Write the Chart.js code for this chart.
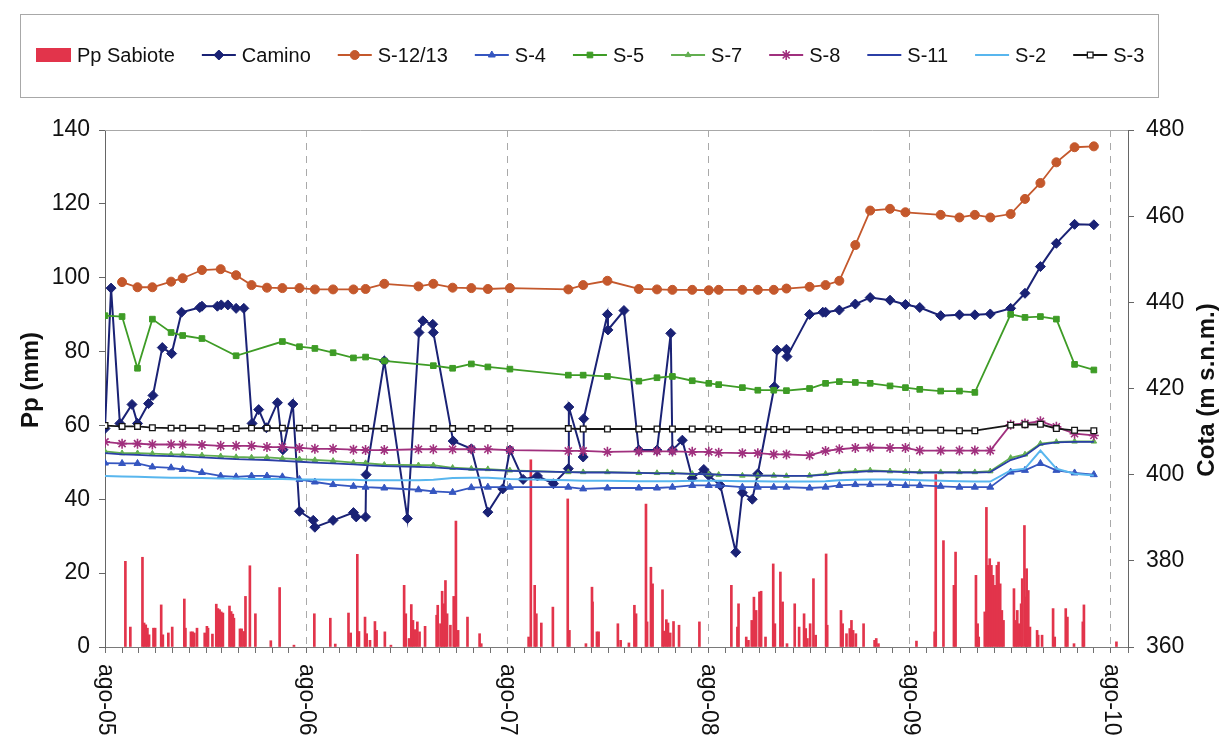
<!DOCTYPE html>
<html lang="es">
<head>
<meta charset="utf-8">
<title>Pp Sabiote y cotas piezométricas</title>
<script src="https://cdn.jsdelivr.net/npm/chart.js@4.4.0/dist/chart.umd.min.js"></script>
<style>
  html, body { margin: 0; padding: 0; background: #fff; }
  #wrap { width: 1223px; height: 738px; position: relative; }
</style>
</head>
<body>
<div id="wrap"><canvas id="grafico"></canvas></div>
<script>
// ---- Datos ----
const etiquetasAnio = ['ago-05', 'ago-06', 'ago-07', 'ago-08', 'ago-09', 'ago-10'];

// Fechas de las campañas de medida en los sondeos
const fechasPiezo = [
  '2005-08-01','2005-09-01','2005-09-29','2005-10-26','2005-11-29','2005-12-20','2006-01-24','2006-02-27','2006-03-27','2006-04-24',
  '2006-05-22','2006-06-19','2006-07-20','2006-08-17','2006-09-19','2006-10-26','2006-11-17','2006-12-21','2007-02-21','2007-03-20',
  '2007-04-24','2007-05-28','2007-06-27','2007-08-06','2007-11-20','2007-12-17','2008-01-30','2008-03-27','2008-04-29','2008-05-27',
  '2008-07-02','2008-08-01','2008-08-19','2008-10-01','2008-10-29','2008-11-27','2008-12-20','2009-01-31','2009-03-01','2009-03-26',
  '2009-04-24','2009-05-21','2009-06-26','2009-07-24','2009-08-19','2009-09-26','2009-10-30','2009-11-27','2009-12-25','2010-01-31',
  '2010-02-26','2010-03-26','2010-04-24','2010-05-27','2010-07-01'
];

const s12_13 = [
  null, 444.7, 443.5, 443.5, 444.8, 445.6, 447.5, 447.7, 446.3, 444.0,
  443.4, 443.3, 443.3, 443.0, 443.0, 443.0, 443.1, 444.3, 443.7, 444.3,
  443.4, 443.3, 443.1, 443.3, 443.0, 444.0, 445.0, 443.1, 443.0, 442.9,
  442.9, 442.8, 442.9, 442.9, 442.9, 442.9, 443.2, 443.6, 444.0, 445.0,
  453.3, 461.3, 461.7, 460.9, null, 460.3, 459.7, 460.3, 459.7, 460.5,
  464.0, 467.7, 472.5, 476.0, 476.2
];
const s4 = [
  402.7, 402.6, 402.6, 401.8, 401.6, 401.2, 400.5, 399.7, 399.5, 399.7,
  399.7, 399.5, 398.9, 398.3, 397.7, 397.3, 397.1, 396.9, 396.5, 396.1,
  395.9, 397.0, 397.1, 397.1, 397.1, 396.7, 396.9, 396.9, 396.9, 397.1,
  397.5, 397.5, 397.5, 397.1, 397.1, 397.1, 397.1, 396.9, 397.1, 397.5,
  397.7, 397.7, 397.7, 397.5, 397.5, 397.3, 397.1, 397.1, 397.1, 400.6,
  401.0, 402.6, 401.0, 400.4, 400.0
];
const s5 = [
  436.9, 436.7, 424.7, 436.1, 433.0, 432.3, 431.6, null, 427.6, null,
  null, 430.9, 429.7, 429.3, 428.3, 427.1, 427.3, 426.4, null, 425.3,
  424.7, 425.7, 425.0, 424.5, 423.1, 423.1, 422.8, 421.7, 422.5, 422.8,
  421.8, 421.2, 420.9, 420.2, 419.6, 419.6, 419.5, 420.0, 421.2, 421.6,
  421.4, 421.2, 420.6, 420.2, 419.8, 419.4, 419.4, 419.1, null, 437.2,
  436.5, 436.7, 436.1, 425.6, 424.3
];
const s7 = [
  405.4, 405.0, 405.0, 404.9, 404.7, 404.7, 404.5, 404.3, 404.1, 404.0,
  404.0, 403.8, 403.6, 403.4, 403.2, 402.8, 402.7, 402.3, 402.2, 402.2,
  401.6, 401.4, 401.3, 401.0, 400.6, 400.6, 400.6, 400.4, 400.4, 400.4,
  400.2, 400.1, 400.0, 399.8, 399.8, 399.8, 399.7, 399.8, 400.2, 400.6,
  400.8, 401.0, 400.8, 400.7, 400.6, 400.6, 400.6, 400.6, 400.8, 403.9,
  404.7, 407.2, 407.6, 407.7, 407.7
];
const s8 = [
  407.6, 407.2, 407.2, 407.0, 407.0, 407.0, 406.9, 406.7, 406.7, 406.7,
  406.4, 406.4, 406.2, 406.0, 406.0, 405.8, 405.7, 405.7, 405.9, 405.9,
  405.9, 405.9, 405.9, 405.7, 405.5, 405.5, 405.3, 405.4, 405.4, 405.4,
  405.3, 405.3, 405.1, 405.0, 405.0, 404.7, 404.7, 404.5, 405.5, 405.9,
  406.2, 406.3, 406.2, 406.2, 405.6, 405.6, 405.6, 405.6, 405.6, 411.6,
  411.9, 412.4, 411.1, 409.5, 409.1
];
const s11 = [
  405.0, 404.7, 404.6, 404.4, 404.3, 404.2, 404.0, 403.8, 403.6, 403.5,
  403.4, 403.2, 403.0, 402.8, 402.6, 402.4, 402.2, 402.0, 401.8, 401.7,
  401.4, 401.2, 401.1, 400.9, 400.6, 400.5, 400.5, 400.4, 400.3, 400.3,
  400.2, 400.1, 400.0, 399.9, 399.8, 399.8, 399.7, 399.7, 400.0, 400.4,
  400.6, 400.8, 400.7, 400.6, 400.5, 400.5, 400.5, 400.5, 400.6, 403.4,
  404.4, 407.0, 407.5, 407.6, 407.6
];
const s2 = [
  399.7, 399.6, 399.5, 399.4, 399.3, 399.3, 399.2, 399.1, 399.1, 399.0,
  399.0, 399.0, 398.9, 398.9, 398.8, 398.8, 398.7, 398.7, 398.7, 398.8,
  399.2, 399.3, 399.3, 399.0, 398.7, 398.6, 398.6, 398.5, 398.5, 398.5,
  398.6, 398.6, 398.6, 398.5, 398.5, 398.4, 398.4, 398.4, 398.5, 398.7,
  398.8, 398.9, 398.9, 398.8, 398.7, 398.6, 398.5, 398.4, 398.4, 401.0,
  401.4, 405.6, 401.4, 400.2, 399.8
];
const s3 = [
  411.4, 411.2, 411.2, 410.9, 410.8, 410.8, 410.8, 410.7, 410.7, 410.8,
  410.8, 410.8, 410.8, 410.8, 410.8, 410.8, 410.7, 410.7, null, 410.7,
  410.7, 410.7, 410.7, 410.7, 410.7, 410.6, 410.6, 410.6, 410.6, 410.6,
  410.6, 410.6, 410.5, 410.5, 410.5, 410.5, 410.5, 410.5, 410.4, 410.4,
  410.4, 410.4, 410.4, 410.3, 410.3, 410.3, 410.2, 410.2, null, 411.5,
  411.6, 411.7, 410.7, 410.3, 410.2
];

// Sondeo Camino: medidas más frecuentes
const fechasCamino = [
  '2005-08-01','2005-08-12','2005-08-28','2005-09-19','2005-09-29','2005-10-19','2005-10-27','2005-11-13','2005-11-30','2005-12-18',
  '2006-01-20','2006-01-24','2006-02-21','2006-02-28','2006-03-12','2006-03-27','2006-04-10','2006-04-25','2006-05-07','2006-05-21',
  '2006-06-10','2006-06-20','2006-07-08','2006-07-20','2006-08-14','2006-08-17','2006-09-19','2006-10-26','2006-10-31','2006-11-17',
  '2006-11-18','2006-12-21','2007-02-01','2007-02-22','2007-03-01','2007-03-19','2007-03-20','2007-04-25','2007-05-28','2007-06-27',
  '2007-07-24','2007-08-06','2007-08-30','2007-09-25','2007-10-24','2007-11-20','2007-11-21','2007-12-17','2007-12-18','2008-01-30',
  '2008-01-31','2008-02-29','2008-03-27','2008-04-29','2008-05-24','2008-05-27','2008-06-14','2008-07-02','2008-07-23','2008-08-01',
  '2008-08-22','2008-09-19','2008-10-01','2008-10-19','2008-10-29','2008-11-28','2008-12-03','2008-12-20','2008-12-21','2009-01-31',
  '2009-02-24','2009-03-01','2009-03-26','2009-04-24','2009-05-21','2009-06-26','2009-07-24','2009-08-19','2009-09-26','2009-10-30',
  '2009-11-27','2009-12-25','2010-01-31','2010-02-26','2010-03-26','2010-04-24','2010-05-27','2010-07-01'
];
const camino = [
  410.7, 443.3, 411.9, 416.3, 411.9, 416.5, 418.4, 429.5, 428.1, 437.7,
  438.8, 439.1, 439.1, 439.4, 439.4, 438.6, 438.6, 411.9, 415.1, 410.9,
  416.7, 405.8, 416.4, 391.5, 389.4, 387.8, 389.4, 391.2, 390.2, 390.2,
  400.0, 426.4, 389.8, 433.0, 435.7, 434.9, 433.0, 407.8, 406.0, 391.3,
  396.7, 405.7, 398.9, 399.7, 397.9, 401.4, 415.7, 404.1, 413.0, 437.2,
  433.6, 438.1, 405.7, 405.7, 432.8, 405.7, 408.0, 399.2, 401.2, 399.8,
  397.5, 382.0, 395.8, 394.3, 400.2, 420.4, 428.9, 429.1, 427.4, 437.2,
  437.7, 437.7, 438.2, 439.6, 441.1, 440.5, 439.5, 438.8, 436.9, 437.1,
  437.1, 437.3, 438.6, 442.1, 448.3, 453.7, 458.1, 458.0
];

// Precipitación diaria en Sabiote (mm), días con lluvia
const fechasLluvia = [
  '2005-09-07','2005-09-16','2005-10-08','2005-10-11','2005-10-14','2005-10-17','2005-10-20','2005-10-28','2005-10-31','2005-11-11',
  '2005-11-14','2005-11-24','2005-12-01','2005-12-23','2005-12-25','2006-01-04','2006-01-07','2006-01-10','2006-01-15','2006-01-29',
  '2006-02-02','2006-02-04','2006-02-12','2006-02-19','2006-02-22','2006-02-25','2006-02-28','2006-03-03','2006-03-15','2006-03-18',
  '2006-03-21','2006-03-23','2006-04-03','2006-04-06','2006-04-10','2006-04-13','2006-04-21','2006-05-01','2006-05-29','2006-06-14',
  '2006-07-10','2006-08-16','2006-09-14','2006-09-23','2006-10-17','2006-10-21','2006-11-02','2006-11-05','2006-11-16','2006-11-19',
  '2006-11-25','2006-12-04','2006-12-07','2006-12-22','2007-01-02','2007-01-26','2007-01-29','2007-02-04','2007-02-08','2007-02-11',
  '2007-02-15','2007-02-19','2007-02-23','2007-03-05','2007-03-26','2007-03-28','2007-04-02','2007-04-05','2007-04-08','2007-04-11',
  '2007-04-14','2007-04-20','2007-04-26','2007-04-28','2007-04-30','2007-05-04','2007-05-21','2007-06-12','2007-06-15','2007-09-09',
  '2007-09-13','2007-09-20','2007-09-23','2007-10-02','2007-10-23','2007-11-19','2007-11-22','2007-12-22','2008-01-02','2008-01-03',
  '2008-01-11','2008-01-14','2008-02-18','2008-02-23','2008-03-09','2008-03-19','2008-03-22','2008-04-09','2008-04-11','2008-04-18',
  '2008-04-21','2008-05-09','2008-05-12','2008-05-16','2008-05-19','2008-05-23','2008-05-29','2008-06-08','2008-07-15','2008-09-11',
  '2008-09-22','2008-09-24','2008-10-08','2008-10-12','2008-10-18','2008-10-22','2008-10-26','2008-11-01','2008-11-04','2008-11-12',
  '2008-11-26','2008-11-29','2008-12-09','2008-12-13','2008-12-21','2009-01-04','2009-01-12','2009-01-21','2009-01-24','2009-01-27',
  '2009-02-01','2009-02-07','2009-02-11','2009-03-02','2009-03-04','2009-03-29','2009-04-01','2009-04-08','2009-04-14','2009-04-17',
  '2009-04-20','2009-04-25','2009-05-09','2009-05-29','2009-06-01','2009-06-05','2009-08-13','2009-09-15','2009-09-17','2009-10-01',
  '2009-10-20','2009-10-23','2009-11-29','2009-12-02','2009-12-04','2009-12-15','2009-12-18','2009-12-21','2009-12-24','2009-12-27',
  '2009-12-30','2010-01-03','2010-01-06','2010-01-09','2010-01-12','2010-01-15','2010-01-18','2010-02-06','2010-02-09','2010-02-12',
  '2010-02-15','2010-02-19','2010-02-21','2010-02-25','2010-02-28','2010-03-01','2010-03-04','2010-03-07','2010-03-20','2010-03-22',
  '2010-03-29','2010-04-18','2010-04-21','2010-05-11','2010-05-14','2010-05-26','2010-06-11','2010-06-13','2010-08-11'
];
const ppSabiote = [
  23.2, 5.4, 24.3, 6.5, 6.0, 5.1, 3.3, 5.1, 5.1, 11.4,
  3.3, 3.8, 5.4, 13.0, 5.1, 4.1, 4.1, 3.8, 5.1, 3.8,
  5.6, 5.1, 3.5, 11.6, 10.4, 10.1, 9.5, 9.2, 11.1, 9.6,
  8.9, 7.8, 4.9, 4.9, 4.2, 13.7, 22.0, 9.0, 1.7, 16.1,
  0.5, 9.0, 7.8, 0.8, 9.2, 3.8, 25.1, 4.2, 8.1, 3.6,
  1.8, 6.9, 4.5, 4.1, 0.5, 16.7, 9.0, 2.3, 11.5, 7.2,
  4.7, 6.8, 4.1, 5.6, 8.6, 11.3, 6.3, 15.1, 11.7, 18.0,
  9.0, 5.9, 13.7, 13.5, 34.1, 4.5, 8.1, 3.6, 0.9, 2.7,
  50.7, 16.7, 9.0, 6.5, 10.8, 40.1, 4.5, 0.9, 16.2, 12.2,
  4.1, 4.1, 6.3, 1.8, 1.1, 11.3, 9.0, 38.7, 6.8, 21.6,
  17.1, 15.5, 4.3, 7.4, 6.5, 3.8, 6.9, 5.9, 6.8, 16.7,
  5.4, 11.7, 2.7, 1.8, 7.2, 13.5, 9.9, 14.9, 15.1, 2.7,
  22.5, 6.3, 20.3, 12.2, 0.9, 11.7, 5.4, 9.0, 5.0, 2.3,
  6.3, 18.5, 3.2, 25.2, 5.9, 9.9, 6.3, 3.6, 5.0, 7.2,
  4.5, 3.6, 6.3, 1.8, 2.3, 0.9, 1.6, 4.1, 46.7, 28.8,
  16.7, 25.7, 19.4, 6.3, 2.7, 9.5, 37.8, 22.1, 23.9, 22.1,
  19.4, 16.7, 22.1, 23.0, 17.1, 9.9, 7.2, 15.8, 7.2, 9.9,
  6.3, 11.7, 18.5, 32.9, 13.5, 21.2, 15.3, 5.4, 4.5, 3.2,
  3.2, 10.4, 2.7, 10.4, 8.1, 0.9, 6.8, 11.4, 1.4
];

// ---- Utilidades de fechas ----
const ORIGEN = Date.UTC(2005, 7, 1);
function dia(f) {
  const [a, m, d] = f.split('-').map(Number);
  return (Date.UTC(a, m - 1, d) - ORIGEN) / 86400000;
}
function puntos(fechas, valores) {
  return fechas.map((f, i) => ({ x: dia(f), y: valores[i] })).filter(p => p.y !== null);
}

// Marcas mensuales del eje X (agosto = inicio de año hidrológico, con etiqueta)
const marcasMes = [];
for (let k = 0; k <= 61; k++) {
  const a = 2005 + Math.floor((7 + k) / 12);
  const m = (7 + k) % 12;
  marcasMes.push({ value: (Date.UTC(a, m, 1) - ORIGEN) / 86400000, major: m === 7 });
}

const FUENTE = "'Liberation Sans', Arial, sans-serif";

function lineaSerie(label, datos, color, extra) {
  return Object.assign({
    type: 'line', label, data: datos, yAxisID: 'y1', xAxisID: 'x',
    borderColor: color, backgroundColor: color,
    pointBackgroundColor: color, pointBorderColor: color,
    borderWidth: 1.8, tension: 0, fill: false, pointBorderWidth: 1
  }, extra);
}

const datasets = [
  {
    type: 'bar', label: 'Pp Sabiote', data: puntos(fechasLluvia, ppSabiote),
    yAxisID: 'y', xAxisID: 'x', backgroundColor: '#E2344B', borderWidth: 0,
    barThickness: 2, grouped: false, order: 20
  },
  lineaSerie('Camino', puntos(fechasCamino, camino), '#1A2275',
    { pointStyle: 'rectRot', pointRadius: 5, borderWidth: 2, order: 10 }),
  lineaSerie('S-12/13', puntos(fechasPiezo, s12_13), '#C4582C',
    { pointStyle: 'circle', pointRadius: 4.5, order: 9 }),
  lineaSerie('S-4', puntos(fechasPiezo, s4), '#3556C0',
    { pointStyle: 'triangle', pointRadius: 4, order: 8 }),
  lineaSerie('S-5', puntos(fechasPiezo, s5), '#3E9C26',
    { pointStyle: 'rect', pointRadius: 4, order: 7 }),
  lineaSerie('S-7', puntos(fechasPiezo, s7), '#62AE50',
    { pointStyle: 'triangle', pointRadius: 3.2, order: 6 }),
  lineaSerie('S-8', puntos(fechasPiezo, s8), '#A0307E',
    { pointStyle: 'star', pointRadius: 5, pointBorderWidth: 1.6, order: 5 }),
  lineaSerie('S-11', puntos(fechasPiezo, s11), '#2B3FA6',
    { pointRadius: 0, order: 4 }),
  lineaSerie('S-2', puntos(fechasPiezo, s2), '#58B6EE',
    { pointRadius: 0, borderWidth: 2, order: 3 }),
  lineaSerie('S-3', puntos(fechasPiezo, s3), '#161616',
    { pointStyle: 'rect', pointRadius: 4, pointBackgroundColor: '#ffffff', pointBorderWidth: 1.3, order: 2 })
];

// Leyenda en caja, con muestra de línea y marcador
const leyendaCaja = {
  id: 'leyendaCaja',
  afterDraw(chart) {
    const ctx = chart.ctx;
    ctx.save();
    ctx.strokeStyle = '#a8a8a8';
    ctx.lineWidth = 1;
    ctx.strokeRect(20.5, 14.5, 1138, 83);
    const yc = 55;
    let x = 36;
    ctx.font = '20px ' + FUENTE;
    ctx.textBaseline = 'middle';
    ctx.textAlign = 'left';
    chart.data.datasets.forEach(ds => {
      if (ds.type === 'bar') {
        ctx.fillStyle = ds.backgroundColor;
        ctx.fillRect(x, yc - 7, 35, 14);
        x += 41;
      } else {
        ctx.strokeStyle = ds.borderColor;
        ctx.lineWidth = ds.borderWidth;
        ctx.beginPath();
        ctx.moveTo(x, yc);
        ctx.lineTo(x + 34, yc);
        ctx.stroke();
        if (ds.pointRadius > 0 && Chart.helpers && Chart.helpers.drawPoint) {
          ctx.fillStyle = ds.pointBackgroundColor;
          ctx.strokeStyle = ds.pointBorderColor;
          ctx.lineWidth = ds.pointBorderWidth;
          Chart.helpers.drawPoint(ctx, {
            pointStyle: ds.pointStyle, radius: ds.pointRadius, rotation: 0,
            borderWidth: ds.pointBorderWidth
          }, x + 17, yc);
        }
        x += 40;
      }
      ctx.fillStyle = '#111';
      ctx.fillText(ds.label, x, yc + 1);
      x += ctx.measureText(ds.label).width + 27;
    });
    ctx.restore();
  }
};

// Marco superior, títulos de ejes y etiquetas de año giradas
const rotulos = {
  id: 'rotulos',
  afterDraw(chart) {
    const ctx = chart.ctx;
    const area = chart.chartArea;
    ctx.save();
    ctx.strokeStyle = '#a8a8a8';
    ctx.lineWidth = 1;
    ctx.beginPath();
    ctx.moveTo(area.left, Math.round(area.top) + 0.5);
    ctx.lineTo(area.right, Math.round(area.top) + 0.5);
    ctx.stroke();

    ctx.fillStyle = '#111';
    ctx.font = 'bold 24px ' + FUENTE;
    ctx.textAlign = 'center';
    ctx.textBaseline = 'middle';
    ctx.save();
    ctx.translate(31, 380);
    ctx.rotate(-Math.PI / 2);
    ctx.fillText('Pp (mm)', 0, 0);
    ctx.restore();
    ctx.save();
    ctx.translate(1207, 390);
    ctx.rotate(-Math.PI / 2);
    ctx.fillText('Cota (m s.n.m.)', 0, 0);
    ctx.restore();

    const ex = chart.scales.x;
    ctx.font = '23px ' + FUENTE;
    ctx.textAlign = 'left';
    let j = 0;
    marcasMes.forEach(t => {
      if (!t.major) return;
      const px = ex.getPixelForValue(t.value);
      ctx.save();
      ctx.translate(px, area.bottom + 17);
      ctx.rotate(Math.PI / 2);
      ctx.fillText(etiquetasAnio[j], 0, 0);
      ctx.restore();
      j++;
    });
    ctx.restore();
  }
};

const ejeTicks = { font: { size: 23, family: FUENTE }, color: '#111' };

new Chart(document.getElementById('grafico'), {
  type: 'line',
  data: { datasets },
  options: {
    responsive: true,
    maintainAspectRatio: false,
    animation: false,
    devicePixelRatio: 1,
    layout: { padding: { top: 130, left: 0, right: 0, bottom: 0 } },
    plugins: { legend: { display: false }, tooltip: { enabled: false } },
    scales: {
      x: {
        type: 'linear',
        min: 0,
        max: dia('2010-09-01'),
        offset: false,
        afterBuildTicks: s => { s.ticks = marcasMes.map(t => ({ value: t.value, major: t.major })); },
        ticks: { display: false },
        grid: {
          offset: false,
          drawOnChartArea: true,
          color: c => (c.tick && c.tick.major) ? '#a9a9a9' : 'rgba(0,0,0,0)',
          tickColor: '#707070',
          tickLength: 6,
          lineWidth: 1
        },
        border: { color: '#7a7a7a', width: 1, dash: [7, 6] },
        afterFit: s => { s.height = 91; }
      },
      y: {
        position: 'left',
        min: 0, max: 140,
        ticks: Object.assign({ stepSize: 20, padding: 9 }, ejeTicks),
        grid: { drawOnChartArea: false, tickLength: 6, tickColor: '#666' },
        border: { color: '#666', width: 1 },
        afterFit: s => { s.width = 105; }
      },
      y1: {
        position: 'right',
        min: 360, max: 480,
        ticks: Object.assign({ stepSize: 20, padding: 12 }, ejeTicks),
        grid: { drawOnChartArea: false, tickLength: 6, tickColor: '#666' },
        border: { color: '#666', width: 1 },
        afterFit: s => { s.width = 95; }
      }
    }
  },
  plugins: [leyendaCaja, rotulos]
});
</script>
</body>
</html>
